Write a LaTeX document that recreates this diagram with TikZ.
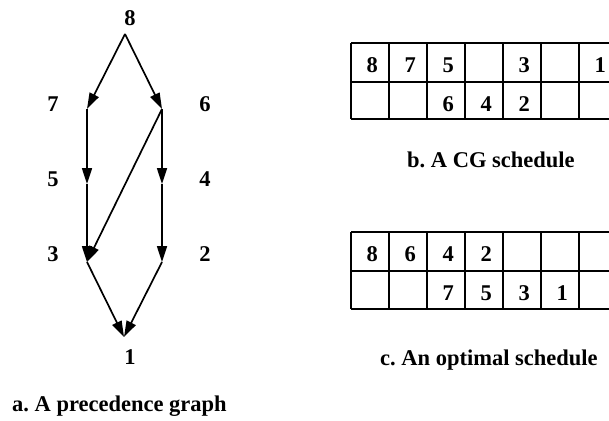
\documentclass[tikz,border=0pt]{standalone}
\usepackage{fontspec}
\setmainfont{Liberation Serif}
\usetikzlibrary{arrows.meta}
\frenchspacing
\begin{document}
\begin{tikzpicture}[x=1pt,y=-1pt,
  lbl/.style={font=\fontsize{22.5}{26}\selectfont\bfseries, inner sep=0pt},
  cell/.style={font=\fontsize{22.5}{26}\selectfont\bfseries, inner sep=0pt, anchor=base east},
  captxt/.style={font=\fontsize{22.5}{26}\selectfont\bfseries, inner sep=0pt, anchor=base west},
  edge/.style={line width=1.7pt, -{Triangle[length=16pt,width=10pt]}},
  gridline/.style={line width=1.8pt}]
\useasboundingbox (0,0) rectangle (609,420);
% graph vertices
\coordinate (v8) at (125,34);
\coordinate (v7) at (87,109);
\coordinate (v6) at (162,109);
\coordinate (v5) at (87,184);
\coordinate (v4) at (162,184);
\coordinate (v3) at (87,262);
\coordinate (v2) at (162,262);
\coordinate (v1) at (124,337);
% labels
\node[lbl] (l8) at (130,18) {8};
\node[lbl] (l7) at (53,104.5) {7};
\node[lbl] (l6) at (205,104.5) {6};
\node[lbl] (l5) at (53,179.5) {5};
\node[lbl] (l4) at (205,179.5) {4};
\node[lbl] (l3) at (53,254.5) {3};
\node[lbl] (l2) at (205,254.5) {2};
\node[lbl] (l1) at (130,357.5) {1};
% edges
\draw[edge] (v8) -- (v7);
\draw[edge] (v8) -- (v6);
\draw[edge] (v7) -- (v5);
\draw[edge] (v5) -- (v3);
\draw[edge] (v6) -- (v4);
\draw[edge] (v4) -- (v2);
\draw[edge] (v6) -- (v3);
\draw[edge] (v3) -- (v1);
\draw[edge] (v2) -- (v1);
% table b
\foreach \y in {43,82,119} \draw[gridline] (351,\y) -- (609,\y);
\foreach \x in {351,389,427,465,503,541,579} \draw[gridline] (\x,43) -- (\x,119);
\node[cell] (b11) at (378,72.7) {8};
\node[cell] (b12) at (416,72.7) {7};
\node[cell] (b13) at (454,72.7) {5};
\node[cell] (b15) at (530,72.7) {3};
\node[cell] (b17) at (606,72.7) {1};
\node[cell] (b23) at (454,111.5) {6};
\node[cell] (b24) at (492,111.5) {4};
\node[cell] (b25) at (530,111.5) {2};
\node[captxt] (capb) at (407,167.3) {b. A CG schedule};
% table c
\foreach \y in {232,271,309} \draw[gridline] (351,\y) -- (609,\y);
\foreach \x in {351,389,427,465,503,541,579} \draw[gridline] (\x,232) -- (\x,309);
\node[cell] (c11) at (378,261.7) {8};
\node[cell] (c12) at (416,261.7) {6};
\node[cell] (c13) at (454,261.7) {4};
\node[cell] (c14) at (492,261.7) {2};
\node[cell] (c23) at (454,300.5) {7};
\node[cell] (c24) at (492,300.5) {5};
\node[cell] (c25) at (530,300.5) {3};
\node[cell] (c26) at (568,300.5) {1};
\node[captxt] (capc) at (380,365) {c. An optimal schedule};
\node[captxt] (capa) at (12,411.5) {a. A precedence graph};
\end{tikzpicture}
\end{document}
